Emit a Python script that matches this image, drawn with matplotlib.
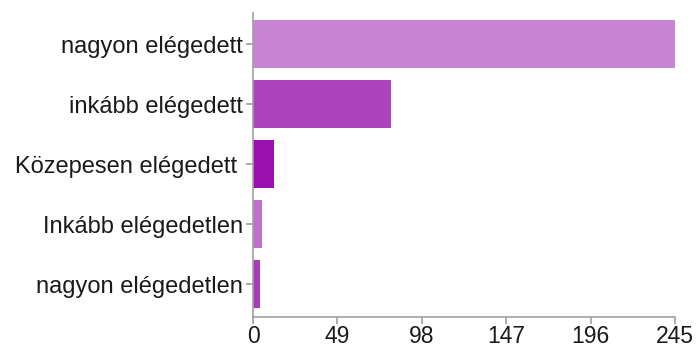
import matplotlib
matplotlib.use("Agg")
import matplotlib.pyplot as plt

# survey answers, top to bottom
categories = ["nagyon elégedett", "inkább elégedett", "Közepesen elégedett ",
              "Inkább elégedetlen", "nagyon elégedetlen"]
counts = [245, 80, 12, 5, 4]
colors = ["#c983d4", "#ad44be", "#9a10b0", "#c070cc", "#a83cba"]
xticks = [0, 49, 98, 147, 196, 245]

plt.rcParams["font.family"] = ["Liberation Sans", "DejaVu Sans"]

fig = plt.figure(figsize=(6.96, 3.47), dpi=100)
ax = fig.add_axes([253 / 696, 30 / 347, 422 / 696, 304 / 347])

ypos = list(range(len(categories)))
ax.barh(ypos, counts, height=0.8, color=colors, edgecolor="none")

ax.set_xlim(0, 245)
ax.set_ylim(4.55, -0.52)
ax.set_xticks(xticks)
ax.set_xticklabels([str(t) for t in xticks])
ax.set_yticks(ypos)
ax.set_yticklabels(categories)

for side in ("top", "right"):
    ax.spines[side].set_visible(False)
for side in ("left", "bottom"):
    ax.spines[side].set_color("#a0a0a0")
    ax.spines[side].set_linewidth(1.2)

ax.tick_params(axis="both", colors="#a0a0a0", length=5, width=1.2,
               labelcolor="#1a1a1a", labelsize=17)
ax.tick_params(axis="y", pad=2)
ax.tick_params(axis="x", pad=1, labelsize=16.5)

fig.savefig("out.png", dpi=100)
